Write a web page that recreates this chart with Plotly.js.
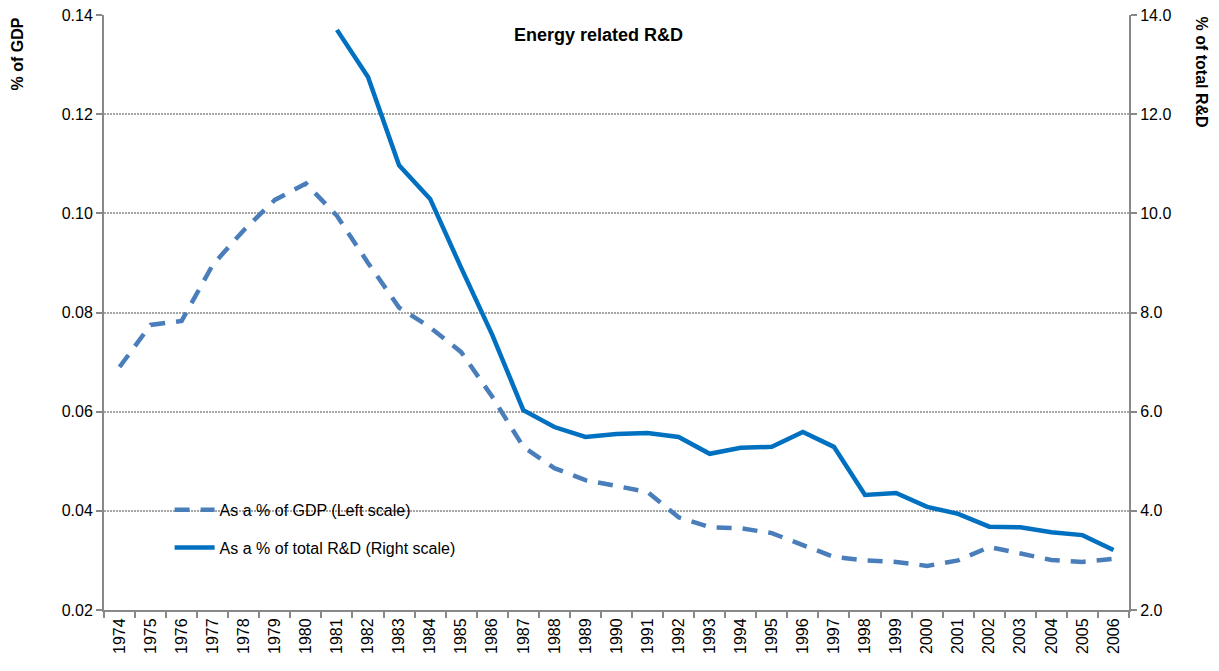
<!DOCTYPE html>
<html><head><meta charset="utf-8">
<script src="https://cdn.plot.ly/plotly-3.0.1.min.js"></script>
<style>html,body{margin:0;padding:0;background:#fff}#chart{width:1219px;height:671px}</style>
</head><body><div id="chart"></div>
<script>
const years = ['1974','1975','1976','1977','1978','1979','1980','1981','1982','1983','1984','1985','1986','1987','1988','1989','1990','1991','1992','1993','1994','1995','1996','1997','1998','1999','2000','2001','2002','2003','2004','2005','2006'];
const pctGDP = [0.069,0.0775,0.0783,0.0896,0.0966,0.1027,0.106,0.0995,0.090,0.081,0.077,0.072,0.063,0.0529,0.0486,0.0462,0.045,0.0438,0.0387,0.0367,0.0365,0.0355,0.0331,0.0307,0.030,0.0297,0.0289,0.030,0.0327,0.0313,0.0301,0.0297,0.0303];
const pctRD = [null,null,null,null,null,null,null,13.7,12.75,10.97,10.29,8.9,7.55,6.03,5.69,5.49,5.55,5.57,5.49,5.15,5.27,5.29,5.59,5.29,4.32,4.36,4.08,3.94,3.68,3.67,3.57,3.51,3.21];
const leftTicks = [0.02,0.04,0.06,0.08,0.10,0.12,0.14];
const rightTicks = [2,4,6,8,10,12,14];

const font = 'Liberation Sans, Arial, sans-serif';
const traces = [
  {x: years, y: pctGDP, type:'scatter', mode:'lines', name:'As a % of GDP (Left scale)',
   legendgroup:'a', line:{color:'#4A7EBB', width:4.5, dash:'15px,11px'}, yaxis:'y'},
  {x: years, y: pctRD, type:'scatter', mode:'lines', name:'As a % of total R&D (Right scale)',
   legendgroup:'b', line:{color:'#0070C0', width:4.5}, yaxis:'y2', connectgaps:false}
];
const axisCommon = {ticks:'outside', ticklen:6, tickcolor:'#888', tickwidth:2,
  showline:true, linecolor:'#888', linewidth:2, zeroline:false,
  tickfont:{family:font, size:16, color:'#000'}};
const layout = {
  width:1219, height:671,
  margin:{l:104, r:90, t:15, b:61},
  paper_bgcolor:'#fff', plot_bgcolor:'#fff',
  font:{family:font, size:16, color:'#000'},
  showlegend:true,
  legend:{x:0.064, y:0.197, xanchor:'left', yanchor:'top', bgcolor:'rgba(0,0,0,0)',
          font:{family:font, size:16, color:'#000'}, tracegroupgap:14, itemwidth:40},
  xaxis:Object.assign({}, axisCommon, {type:'category', tickangle:-90, tickson:'boundaries',
         showgrid:false, range:[-0.5, years.length-0.5]}),
  yaxis:Object.assign({}, axisCommon, {range:[0.02,0.14], tickvals:leftTicks,
         ticktext:leftTicks.map(v=>v.toFixed(2)), showgrid:true, gridcolor:'#a6a6a6',
         griddash:'2px,1px', gridwidth:2}),
  yaxis2:Object.assign({}, axisCommon, {range:[2,14], overlaying:'y', side:'right',
          tickvals:rightTicks, ticktext:rightTicks.map(v=>v.toFixed(1)), showgrid:false}),
  annotations:[
    {text:'<b>Energy related R&D</b>', xref:'paper', yref:'paper', x:0.482, y:0.986,
     xanchor:'center', yanchor:'top', showarrow:false, font:{family:font, size:18}},
    {text:'<b>% of GDP</b>', xref:'paper', yref:'paper', x:-0.084, y:1.0, xanchor:'center',
     yanchor:'top', textangle:-90, showarrow:false, font:{family:font, size:16}},
    {text:'<b>% of total R&D</b>', xref:'paper', yref:'paper', x:1.0712, y:1.0, xanchor:'center',
     yanchor:'top', textangle:90, showarrow:false, font:{family:font, size:16}}
  ]
};
Plotly.newPlot('chart', traces, layout, {displayModeBar:false, staticPlot:true});
</script></body></html>
